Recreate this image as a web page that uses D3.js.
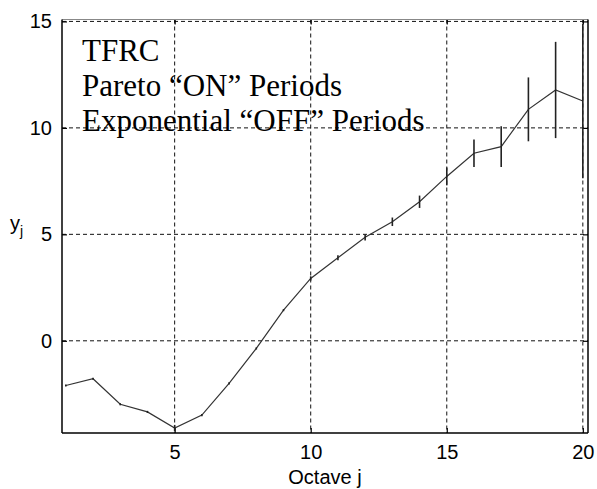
<!DOCTYPE html>
<html><head><meta charset="utf-8">
<script src="https://cdn.jsdelivr.net/npm/d3@7"></script>
<style>body{margin:0;background:#fff}svg{display:block}</style>
</head><body>
<script>
const octaves = [1,2,3,4,5,6,7,8,9,10,11,12,13,14,15,16,17,18,19,20];
const yValues = [-2.10,-1.78,-2.98,-3.34,-4.10,-3.49,-2.00,-0.36,1.44,2.93,3.90,4.86,5.59,6.53,7.72,8.81,9.12,10.87,11.78,11.26];
const yErrors = [0.05,0.05,0.05,0.05,0.15,0.05,0.05,0.05,0.05,0.1,0.12,0.15,0.2,0.29,0.42,0.65,0.96,1.5,2.26,3.62];
const xTicks = [5,10,15,20];
const yTicks = [0,5,10,15];
const annotation = ["TFRC","Pareto \u201cON\u201d Periods","Exponential \u201cOFF\u201d Periods"];

const W=597,H=489;
const L=62,R=588,T=19.5,B=433;
const svg=d3.select("body").append("svg").attr("width",W).attr("height",H);
const x=d3.scaleLinear().domain([0.86,20.19]).range([L,R]);
const y=d3.scaleLinear().domain([-4.33,15.09]).range([B,T]);

// grid
const g=svg.append("g");
g.selectAll("line.gx").data(xTicks).join("line")
 .attr("x1",d=>x(d)).attr("x2",d=>x(d)).attr("y1",T).attr("y2",B)
 .attr("stroke","#111").attr("stroke-width",1).attr("stroke-dasharray","4,3");
g.selectAll("line.gy").data(yTicks).join("line")
 .attr("y1",d=>y(d)).attr("y2",d=>y(d)).attr("x1",L).attr("x2",R)
 .attr("stroke","#111").attr("stroke-width",1).attr("stroke-dasharray","4,3");

// axes with inward ticks
const tickFont = "'Liberation Sans', Arial, sans-serif";
const xb=svg.append("g").attr("transform",`translate(0,${B})`)
 .call(d3.axisBottom(x).tickValues(xTicks).tickSizeInner(-5).tickSizeOuter(0).tickPadding(12));
const xt=svg.append("g").attr("transform",`translate(0,${T})`)
 .call(d3.axisTop(x).tickValues(xTicks).tickSizeInner(-5).tickSizeOuter(0).tickFormat(""));
const yl=svg.append("g").attr("transform",`translate(${L},0)`)
 .call(d3.axisLeft(y).tickValues(yTicks).tickSizeInner(-5).tickSizeOuter(0).tickPadding(10));
const yr=svg.append("g").attr("transform",`translate(${R},0)`)
 .call(d3.axisRight(y).tickValues(yTicks).tickSizeInner(-5).tickSizeOuter(0).tickFormat(""));
[xb,xt,yl,yr].forEach(a=>{
  a.selectAll(".domain").remove();
  a.selectAll(".tick line").attr("stroke","#000").attr("stroke-width",1.2);
  a.selectAll("text").attr("font-family",tickFont).attr("font-size",20).attr("fill","#000");
});
// box
svg.append("line").attr("x1",L).attr("x2",R).attr("y1",T).attr("y2",T).attr("stroke","#888").attr("stroke-width",1.2);
svg.append("line").attr("x1",L).attr("x2",L).attr("y1",T).attr("y2",B).attr("stroke","#000").attr("stroke-width",1.5);
svg.append("line").attr("x1",L).attr("x2",R).attr("y1",B).attr("y2",B).attr("stroke","#000").attr("stroke-width",1.5);
svg.append("line").attr("x1",R).attr("x2",R).attr("y1",T).attr("y2",B).attr("stroke","#000").attr("stroke-width",1.5);

// data
const data=octaves.map((j,i)=>({j,v:yValues[i],e:yErrors[i]}));
svg.append("path").datum(data)
 .attr("d",d3.line().x(d=>x(d.j)).y(d=>y(d.v)))
 .attr("fill","none").attr("stroke","#333").attr("stroke-width",1.2);
svg.selectAll("line.err").data(data).join("line")
 .attr("x1",d=>x(d.j)).attr("x2",d=>x(d.j))
 .attr("y1",d=>y(d.v-d.e)).attr("y2",d=>y(d.v+d.e))
 .attr("stroke","#222").attr("stroke-width",1.6);

// annotation
const ann=svg.append("g").attr("font-family","'Liberation Serif','Times New Roman',serif").attr("font-size",31).attr("fill","#000");
ann.selectAll("text").data(annotation).join("text")
 .attr("x",82).attr("y",(d,i)=>61+i*35).text(d=>d);

// axis labels
svg.append("text").attr("x",(L+R)/2).attr("y",484).attr("text-anchor","middle")
 .attr("font-family",tickFont).attr("font-size",20).text("Octave j");
const yl2=svg.append("text").attr("x",10).attr("y",230).attr("font-family",tickFont).attr("font-size",20);
yl2.append("tspan").text("y");
yl2.append("tspan").attr("font-size",14).attr("dy",6).text("j");
</script>
</body></html>
